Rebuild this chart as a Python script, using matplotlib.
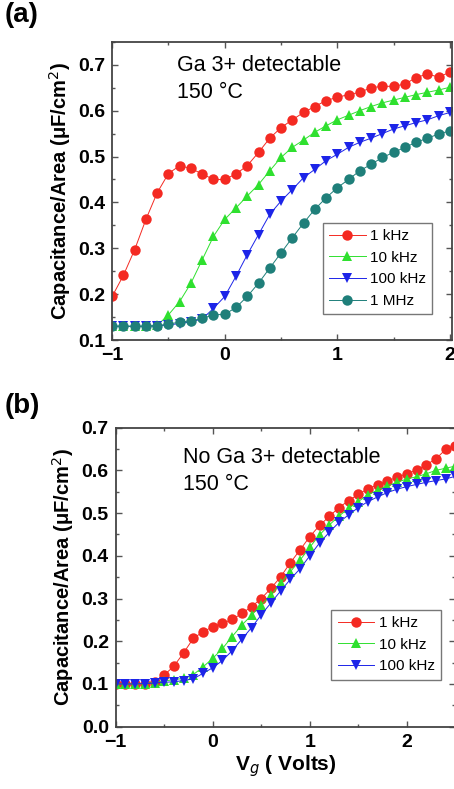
import numpy as np
import matplotlib.pyplot as plt
from matplotlib.ticker import MultipleLocator

plt.rcParams['font.family'] = ['Liberation Sans', 'DejaVu Sans']

# panel (a): Ga 3+ detectable, V from -1 to 2 in 0.1 V steps
va = np.round(np.arange(-1.0, 2.001, 0.1), 2)
a_1k = [0.195, 0.241, 0.297, 0.363, 0.421, 0.463, 0.480, 0.474, 0.462, 0.450,
        0.450, 0.462, 0.480, 0.509, 0.540, 0.563, 0.580, 0.596, 0.609, 0.622,
        0.629, 0.635, 0.640, 0.650, 0.653, 0.653, 0.658, 0.672, 0.680, 0.673,
        0.684]
a_10k = [0.130, 0.130, 0.130, 0.130, 0.132, 0.155, 0.184, 0.224, 0.275, 0.326,
         0.363, 0.388, 0.414, 0.439, 0.469, 0.498, 0.520, 0.536, 0.553, 0.567,
         0.580, 0.590, 0.600, 0.609, 0.617, 0.623, 0.629, 0.635, 0.640, 0.645,
         0.651]
a_100k = [0.130, 0.130, 0.130, 0.130, 0.131, 0.133, 0.136, 0.140, 0.146, 0.169,
          0.195, 0.239, 0.286, 0.330, 0.374, 0.403, 0.428, 0.454, 0.472, 0.491,
          0.505, 0.520, 0.531, 0.540, 0.550, 0.560, 0.567, 0.574, 0.580, 0.589,
          0.596]
a_1M = [0.130, 0.130, 0.130, 0.130, 0.131, 0.135, 0.139, 0.142, 0.147, 0.155,
        0.156, 0.171, 0.195, 0.224, 0.257, 0.290, 0.323, 0.355, 0.385, 0.410,
        0.432, 0.450, 0.469, 0.483, 0.498, 0.509, 0.520, 0.531, 0.540, 0.549,
        0.556]

# panel (b): no Ga 3+ detectable, V from -1 to 2.5
vb = np.round(np.arange(-1.0, 2.501, 0.1), 2)
b_1k = [0.100, 0.100, 0.100, 0.101, 0.105, 0.121, 0.142, 0.173, 0.207, 0.222,
        0.234, 0.242, 0.251, 0.265, 0.281, 0.300, 0.324, 0.351, 0.384, 0.414,
        0.445, 0.471, 0.492, 0.513, 0.529, 0.544, 0.557, 0.566, 0.575, 0.584,
        0.592, 0.601, 0.613, 0.627, 0.649, 0.656]
b_10k = [0.100, 0.100, 0.100, 0.101, 0.103, 0.107, 0.110, 0.113, 0.122, 0.140,
         0.160, 0.183, 0.211, 0.238, 0.261, 0.285, 0.308, 0.336, 0.363, 0.390,
         0.420, 0.449, 0.472, 0.493, 0.511, 0.527, 0.543, 0.554, 0.564, 0.572,
         0.580, 0.585, 0.592, 0.600, 0.605, 0.610]
b_100k = [0.100, 0.100, 0.100, 0.101, 0.102, 0.104, 0.105, 0.108, 0.112, 0.125,
          0.138, 0.155, 0.178, 0.205, 0.232, 0.262, 0.290, 0.318, 0.345, 0.370,
          0.400, 0.430, 0.455, 0.478, 0.496, 0.513, 0.527, 0.538, 0.548, 0.556,
          0.562, 0.567, 0.572, 0.576, 0.580, 0.586]

red = '#f42a22'
green = '#2fe02f'
blue = '#1c24e8'
teal = '#1f7f7a'

fig = plt.figure(figsize=(4.54, 7.89), dpi=100)
ax1 = fig.add_axes([0.247, 0.569, 0.749, 0.378])
ax2 = fig.add_axes([0.255, 0.079, 0.748, 0.379])

def curve(ax, x, y, c, m, lab):
    ax.plot(x, y, color=c, marker=m, markersize=7.5, markeredgewidth=0,
            linewidth=0.7, label=lab)

curve(ax1, va, a_1k, red, 'o', '1 kHz')
curve(ax1, va, a_10k, green, '^', '10 kHz')
curve(ax1, va, a_100k, blue, 'v', '100 kHz')
curve(ax1, va, a_1M, teal, 'o', '1 MHz')

curve(ax2, vb, b_1k, red, 'o', '1 kHz')
curve(ax2, vb, b_10k, green, '^', '10 kHz')
curve(ax2, vb, b_100k, blue, 'v', '100 kHz')

ax1.set_xlim(-1, 2.02)
ax1.set_ylim(0.1, 0.75)
ax2.set_xlim(-1, 2.5)
ax2.set_ylim(0.0, 0.7)

for ax in (ax1, ax2):
    ax.xaxis.set_major_locator(MultipleLocator(1))
    ax.xaxis.set_minor_locator(MultipleLocator(0.5))
    ax.yaxis.set_major_locator(MultipleLocator(0.1))
    ax.yaxis.set_minor_locator(MultipleLocator(0.05))
    ax.yaxis.set_major_formatter(plt.FormatStrFormatter('%.1f'))
    ax.tick_params(which='both', direction='in', top=True, right=True,
                   labelsize=14, width=1, color='#555555')
    ax.tick_params(which='major', length=4, pad=5)
    ax.tick_params(which='minor', length=2)
    for s in ax.spines.values():
        s.set_linewidth(1.3)
        s.set_color('#444444')
    ax.set_ylabel('Capacitance/Area (μF/cm$^2$)', fontsize=14.5,
                  fontweight='bold', labelpad=4)

for ax in (ax1, ax2):
    for lbl in ax.get_xticklabels() + ax.get_yticklabels():
        lbl.set_fontweight('bold')

leg_kw = dict(fontsize=11, frameon=True, fancybox=False,
              edgecolor='#555555', handlelength=2.4, borderpad=0.4,
              labelspacing=0.5, handletextpad=0.3, borderaxespad=0)
ax1.legend(loc='upper left', bbox_to_anchor=(0.62, 0.393), **leg_kw)
ax2.legend(loc='upper left', bbox_to_anchor=(0.635, 0.39), **leg_kw)

ax1.text(0.19, 0.956, 'Ga 3+ detectable\n150 °C', transform=ax1.transAxes,
         va='top', ha='left', fontsize=15.5, linespacing=1.35)
ax2.text(0.197, 0.935, 'No Ga 3+ detectable\n150 °C', transform=ax2.transAxes,
         va='top', ha='left', fontsize=15.5, linespacing=1.35)

ax2.set_xlabel('V$_g$ ( Volts)', fontsize=15, fontweight='bold', labelpad=2)

fig.text(0.01, 0.997, '(a)', fontsize=20, fontweight='bold', va='top')
fig.text(0.01, 0.502, '(b)', fontsize=20, fontweight='bold', va='top')

fig.savefig('out.png', dpi=100)
